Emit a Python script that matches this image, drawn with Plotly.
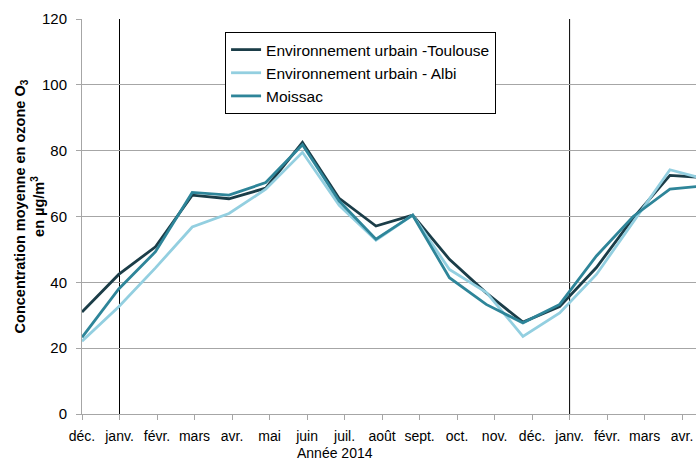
import plotly.graph_objects as go

# Mois (déc. 2013 -> mai 2015, le dernier est hors cadre)
months = ["déc.", "janv.", "févr.", "mars", "avr.", "mai", "juin", "juil.", "août",
          "sept.", "oct.", "nov.", "déc.", "janv.", "févr.", "mars", "avr.", "mai"]

toulouse = [31.0, 42.4, 50.8, 66.5, 65.4, 68.6, 82.5, 65.5, 57.1,
            60.4, 47.0, 36.8, 27.9, 32.6, 44.5, 59.5, 72.5, 71.8]
albi = [22.1, 32.6, 44.4, 56.8, 60.9, 68.3, 79.5, 63.4, 52.8,
        60.4, 43.9, 37.0, 23.6, 30.7, 42.4, 58.5, 74.2, 71.2]
moissac = [23.3, 38.0, 49.3, 67.3, 66.5, 70.3, 81.8, 64.7, 53.1,
           60.4, 41.4, 33.3, 27.7, 33.3, 48.0, 60.0, 68.3, 69.4]

series = [
    ("Environnement urbain -Toulouse", toulouse, "#1b3d48"),
    ("Environnement urbain - Albi", albi, "#93cfe0"),
    ("Moissac", moissac, "#2e8599"),
]

FONT = "Liberation Sans, Arial, sans-serif"
GRID = "#a6a6a6"

fig = go.Figure()

xs = list(range(len(months)))
for name, vals, color in series:
    fig.add_trace(
        go.Scatter(
            x=xs,
            y=vals,
            mode="lines",
            name=name,
            line=dict(color=color, width=2.8),
        )
    )

# vertical separators at each January
shown = months[:17]
for i, m in enumerate(shown):
    if m == "janv.":
        fig.add_shape(type="line", xref="x2", yref="y", x0=i, x1=i, y0=0, y1=120,
                      line=dict(color="black", width=1), layer="below")

fig.add_annotation(
    text="Concentration moyenne en ozone O<sub>3</sub><br>en µg/m<sup>3</sup>",
    xref="paper", yref="paper", x=-0.085, y=0.525,
    xanchor="center", yanchor="middle", textangle=-90, showarrow=False,
    font=dict(family=FONT, size=14.5, color="black", weight="bold"),
)
fig.add_annotation(
    text="Année 2014", xref="x2", yref="paper", x=6.75, y=-0.098,
    xanchor="center", yanchor="middle", showarrow=False,
    font=dict(family=FONT, size=14, color="black"),
)

fig.update_layout(
    width=696,
    height=461,
    margin=dict(l=82, r=0, t=19, b=47, autoexpand=False),
    paper_bgcolor="white",
    plot_bgcolor="white",
    font=dict(family=FONT, size=14, color="black"),
    showlegend=True,
    legend=dict(
        x=0.233, y=0.967, xanchor="left", yanchor="top",
        bordercolor="black", borderwidth=1, bgcolor="white",
        font=dict(family=FONT, size=15.5, color="black"),
        tracegroupgap=0, itemwidth=30,
    ),
    xaxis=dict(
        range=[0, 16.71], showticklabels=False, showgrid=False,
        showline=False, zeroline=False, ticks="", automargin=False,
    ),
    xaxis2=dict(
        overlaying="x", anchor="y", side="bottom",
        range=[0, 16.37], automargin=False,
        tickmode="array", tickvals=list(range(len(shown))), ticktext=shown,
        ticks="outside", ticklen=5, tickcolor=GRID, tickangle=0,
        showline=True, linecolor=GRID, linewidth=1,
        showgrid=False, zeroline=False, ticklabelstandoff=4,
        tickfont=dict(family=FONT, size=14, color="black"),
    ),
    yaxis=dict(
        range=[0, 120], dtick=20, tick0=0, automargin=False,
        showgrid=True, gridcolor=GRID, gridwidth=1,
        showline=True, linecolor=GRID, linewidth=1,
        ticks="outside", ticklen=5, tickcolor=GRID,
        zeroline=False, ticklabelstandoff=6,
        tickfont=dict(family=FONT, size=15, color="black"),
    ),
)

fig.write_html(
    "out.html",
    config={"displayModeBar": False},
    post_script="document.body.style.margin='0';",
)
